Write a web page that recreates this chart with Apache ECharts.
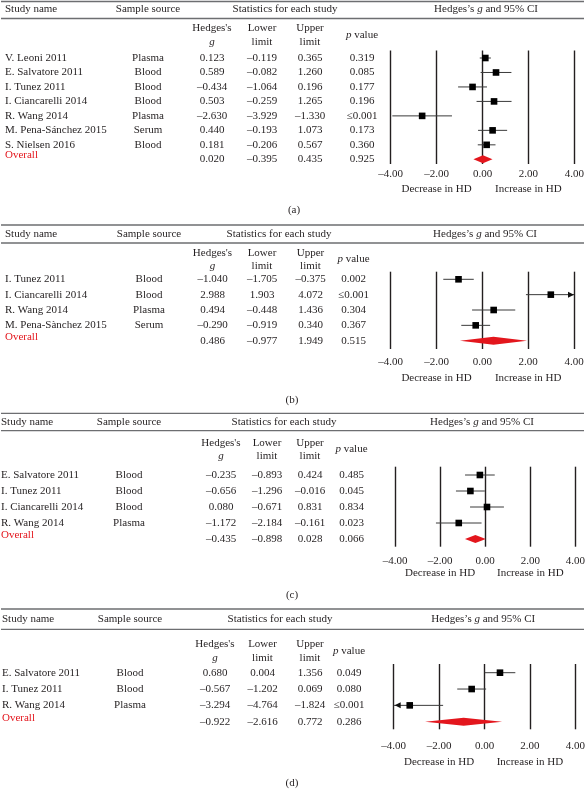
<!DOCTYPE html>
<html><head><meta charset="utf-8">
<script src="https://cdn.jsdelivr.net/npm/echarts@6/dist/echarts.min.js"></script>
<style>html,body{margin:0;padding:0;background:#fff}#c{width:588px;height:789px}</style>
</head><body><div id="c"></div>
<script>
// ---------- DATA ----------
const tickValues = [-4, -2, 0, 2, 4];
const directionLabels = ["Decrease in HD", "Increase in HD"];
const panelLabels = ["(a)", "(b)", "(c)", "(d)"];

const namesA   = ["V. Leoni 2011", "E. Salvatore 2011", "I. Tunez 2011", "I. Ciancarelli 2014", "R. Wang 2014", "M. Pena-Sánchez 2015", "S. Nielsen 2016", "Overall"];
const sourcesA = ["Plasma", "Blood", "Blood", "Blood", "Plasma", "Serum", "Blood", ""];
const hedgesA  = [0.123, 0.589, -0.434, 0.503, -2.630, 0.440, 0.181, 0.020];
const lowerA   = [-0.119, -0.082, -1.064, -0.259, -3.929, -0.193, -0.206, -0.395];
const upperA   = [0.365, 1.260, 0.196, 1.265, -1.330, 1.073, 0.567, 0.435];
const pA       = ["0.319", "0.085", "0.177", "0.196", "≤0.001", "0.173", "0.360", "0.925"];

const namesB   = ["I. Tunez 2011", "I. Ciancarelli 2014", "R. Wang 2014", "M. Pena-Sànchez 2015", "Overall"];
const sourcesB = ["Blood", "Blood", "Plasma", "Serum", ""];
const hedgesB  = [-1.040, 2.988, 0.494, -0.290, 0.486];
const lowerB   = [-1.705, 1.903, -0.448, -0.919, -0.977];
const upperB   = [-0.375, 4.072, 1.436, 0.340, 1.949];
const pB       = ["0.002", "≤0.001", "0.304", "0.367", "0.515"];

const namesC   = ["E. Salvatore 2011", "I. Tunez 2011", "I. Ciancarelli 2014", "R. Wang 2014", "Overall"];
const sourcesC = ["Blood", "Blood", "Blood", "Plasma", ""];
const hedgesC  = [-0.235, -0.656, 0.080, -1.172, -0.435];
const lowerC   = [-0.893, -1.296, -0.671, -2.184, -0.898];
const upperC   = [0.424, -0.016, 0.831, -0.161, 0.028];
const pC       = ["0.485", "0.045", "0.834", "0.023", "0.066"];

const namesD   = ["E. Salvatore 2011", "I. Tunez 2011", "R. Wang 2014", "Overall"];
const sourcesD = ["Blood", "Blood", "Plasma", ""];
const hedgesD  = [0.680, -0.567, -3.294, -0.922];
const lowerD   = [0.004, -1.202, -4.764, -2.616];
const upperD   = [1.356, 0.069, -1.824, 0.772];
const pD       = ["0.049", "0.080", "≤0.001", "0.286"];

// ---------- LAYOUT (positions/styles only) ----------
const panels = [
  {names: namesA, sources: sourcesA, g: hedgesA, lo: lowerA, up: upperA, p: pA},
  {names: namesB, sources: sourcesB, g: hedgesB, lo: lowerB, up: upperB, p: pB},
  {names: namesC, sources: sourcesC, g: hedgesC, lo: lowerC, up: upperC, p: pC},
  {names: namesD, sources: sourcesD, g: hedgesD, lo: lowerD, up: upperD, p: pD}
];
const layouts = [
  {ruleTop: 1.5, ruleBot: 18.5, headY: 9.5, sub1: 28, sub2: 42, pY: 35, top: 50.5, bottom: 164, row0: 58, rowN: 159.3,
   left: 390.7, right: 574.3, tickY: 173, dirY: 189, labelX: 294, labelY: 210,
   cols: {name: 5, src: 148, g: 212, lo: 262, up: 310, p: 362, stat: 285, ci: 486}},
  {ruleTop: 225, ruleBot: 243, headY: 234, sub1: 253, sub2: 266, pY: 259, top: 271.7, bottom: 349, row0: 279.3, rowN: 340.7,
   left: 390.7, right: 574, tickY: 360.7, dirY: 377.7, labelX: 292, labelY: 400,
   cols: {name: 5, src: 149, g: 212.5, lo: 262, up: 310.5, p: 353.5, stat: 279, ci: 485}},
  {ruleTop: 413.3, ruleBot: 430.7, headY: 421.7, sub1: 442.7, sub2: 456, pY: 449.3, top: 466.7, bottom: 546.7, row0: 475, rowN: 539,
   left: 395, right: 578.7, tickY: 560, dirY: 573.3, labelX: 292, labelY: 595,
   cols: {name: 1, src: 129, g: 221, lo: 267, up: 310, p: 351.5, stat: 284, ci: 482}},
  {ruleTop: 609, ruleBot: 629.3, headY: 619, sub1: 644, sub2: 657.7, pY: 651, top: 664, bottom: 729.3, row0: 672.7, rowN: 721.7,
   left: 393.7, right: 577.3, tickY: 745, dirY: 762.3, labelX: 292, labelY: 783.3,
   cols: {name: 2, src: 130, g: 215, lo: 262.5, up: 310, p: 349, stat: 280, ci: 483.3}}
];

const FF = "'Liberation Serif', 'DejaVu Serif', serif";
const FS = 11;
const TXT = '#231f20';
const RED = '#e3161d';
const font = (italic) => (italic ? 'italic ' : '') + FS + 'px ' + FF;
const fmt3 = v => (v < 0 ? '–' : '') + Math.abs(v).toFixed(3);
const fmt2 = v => (v < 0 ? '–' : '') + Math.abs(v).toFixed(2);

function text(x, y, s, align, fill, italic) {
  return {type: 'text', silent: true, style: {text: s, x: x, y: y, font: font(italic), fill: fill || TXT,
    align: align || 'center', verticalAlign: 'middle', textAlign: align || 'center', textVerticalAlign: 'middle'}};
}
function richText(x, y, s) {
  return {type: 'text', silent: true, style: {text: s, x: x, y: y, fill: TXT,
    font: font(false), align: 'center', verticalAlign: 'middle', textAlign: 'center', textVerticalAlign: 'middle',
    rich: {a: {font: font(false), fill: TXT}, i: {font: font(true), fill: TXT}}}};
}

const grid = [], xAxis = [], yAxis = [], series = [], graphic = [];

panels.forEach((P, k) => {
  const L = layouts[k];
  const n = P.names.length;
  const step = (L.rowN - L.row0) / (n - 1);
  grid.push({left: L.left, top: L.top, width: L.right - L.left, height: L.bottom - L.top});
  xAxis.push({type: 'value', gridIndex: k, min: tickValues[0], max: tickValues[tickValues.length - 1], interval: 2,
    axisLine: {show: false}, axisTick: {show: false},
    splitLine: {show: true, lineStyle: {color: '#231f20', width: 1.4}},
    axisLabel: {margin: L.tickY - L.bottom - 4, formatter: fmt2, fontFamily: FF, fontSize: FS, color: TXT}});
  yAxis.push({type: 'value', gridIndex: k, inverse: true, show: false,
    min: -(L.row0 - L.top) / step, max: (n - 1) + (L.bottom - L.rowN) / step});

  // study CI lines + squares
  const studyData = [];
  for (let i = 0; i < n - 1; i++) studyData.push([P.g[i], P.lo[i], P.up[i], i]);
  series.push({type: 'custom', xAxisIndex: k, yAxisIndex: k, clip: false, silent: true, z: 5,
    encode: {x: [0, 1, 2], y: 3}, data: studyData,
    renderItem: (params, api) => {
      const xmin = tickValues[0], xmax = tickValues[tickValues.length - 1];
      const g = api.value(0), lo = api.value(1), up = api.value(2), r = api.value(3);
      const y = api.coord([0, r])[1];
      const x1 = api.coord([Math.max(lo, xmin), r])[0];
      const x2 = api.coord([Math.min(up, xmax), r])[0];
      const xg = api.coord([g, r])[0];
      const ch = [{type: 'line', shape: {x1: x1, y1: y, x2: x2, y2: y}, style: {stroke: '#3a3a3a', lineWidth: 1}}];
      if (up > xmax) ch.push({type: 'polygon', shape: {points: [[x2, y], [x2 - 6, y - 3], [x2 - 6, y + 3]]}, style: {fill: '#111'}});
      if (lo < xmin) ch.push({type: 'polygon', shape: {points: [[x1 + 1, y], [x1 + 7, y - 3], [x1 + 7, y + 3]]}, style: {fill: '#111'}});
      ch.push({type: 'rect', shape: {x: xg - 3.3, y: y - 3.3, width: 6.6, height: 6.6}, style: {fill: '#000'}});
      return {type: 'group', children: ch};
    }});

  // overall diamond
  series.push({type: 'custom', xAxisIndex: k, yAxisIndex: k, clip: false, silent: true, z: 5,
    encode: {x: [0, 1, 2], y: 3}, data: [[P.g[n - 1], P.lo[n - 1], P.up[n - 1], n - 1]],
    renderItem: (params, api) => {
      const r = api.value(3);
      const y = api.coord([0, r])[1];
      const xl = api.coord([api.value(1), r])[0], xu = api.coord([api.value(2), r])[0], xg = api.coord([api.value(0), r])[0];
      return {type: 'polygon', shape: {points: [[xl, y], [xg, y - 4], [xu, y], [xg, y + 4]]}, style: {fill: RED}};
    }});

  // table rows
  const rowData = [];
  for (let i = 0; i < n; i++) rowData.push([0, i]);
  series.push({type: 'custom', xAxisIndex: k, yAxisIndex: k, clip: false, silent: true, z: 6,
    encode: {x: 0, y: 1}, data: rowData,
    renderItem: (params, api) => {
      const i = api.value(1);
      const y = api.coord([0, i])[1];
      const c = L.cols;
      const isOverall = i === n - 1;
      return {type: 'group', children: [
        text(c.name, isOverall ? y - 4 : y, P.names[i], 'left', isOverall ? RED : TXT),
        text(c.src, y, P.sources[i]),
        text(c.g, y, fmt3(P.g[i])),
        text(c.lo, y, fmt3(P.lo[i])),
        text(c.up, y, fmt3(P.up[i])),
        text(c.p, y, P.p[i])
      ]};
    }});

  // direction labels under the axis
  series.push({type: 'custom', xAxisIndex: k, yAxisIndex: k, clip: false, silent: true, z: 6,
    encode: {x: 0, y: 1}, data: [[-2, 0], [2, 0]],
    renderItem: (params, api) => {
      const x = api.coord([api.value(0), 0])[0];
      return text(x, L.dirY, directionLabels[params.dataIndex]);
    }});

  // header rules and texts
  const c = L.cols;
  [L.ruleTop, L.ruleBot].forEach(yy => graphic.push({type: 'line', silent: true,
    shape: {x1: 1, y1: yy, x2: 584, y2: yy}, style: {stroke: '#6d6e71', lineWidth: 1.3}}));
  graphic.push(text(c.name, L.headY, 'Study name', 'left'));
  graphic.push(text(c.src, L.headY, 'Sample source'));
  graphic.push(text(c.stat, L.headY, 'Statistics for each study'));
  graphic.push(richText(c.ci, L.headY, '{a|Hedges’s }{i|g}{a| and 95% CI}'));
  graphic.push(text(c.g, L.sub1, 'Hedges\'s'));
  graphic.push(text(c.g, L.sub2, 'g', 'center', TXT, true));
  graphic.push(text(c.lo, L.sub1, 'Lower'));
  graphic.push(text(c.lo, L.sub2, 'limit'));
  graphic.push(text(c.up, L.sub1, 'Upper'));
  graphic.push(text(c.up, L.sub2, 'limit'));
  graphic.push(richText(c.p, L.pY, '{i|p}{a| value}'));
  graphic.push(text(L.labelX, L.labelY, panelLabels[k]));
});

const chart = echarts.init(document.getElementById('c'), null, {renderer: 'canvas'});
chart.setOption({animation: false, backgroundColor: '#fff', grid, xAxis, yAxis, series, graphic: {elements: graphic}});
</script>
</body></html>
